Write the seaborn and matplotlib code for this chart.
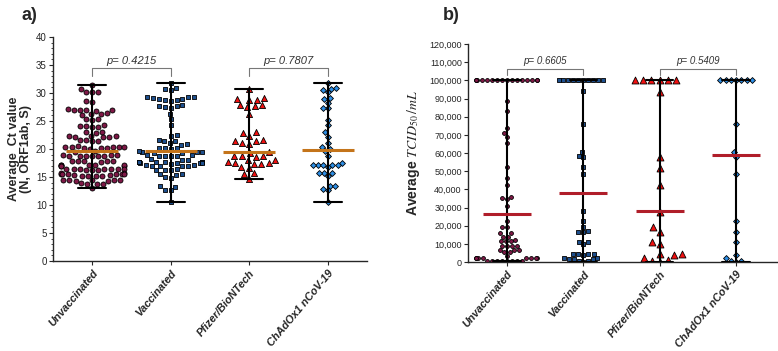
import numpy as np
import pandas as pd
import matplotlib
matplotlib.use("Agg")
import matplotlib.pyplot as plt
from matplotlib.ticker import MultipleLocator, StrMethodFormatter
import seaborn as sns

categories = ["Unvaccinated", "Vaccinated", "Pfizer/BioNTech", "ChAdOx1 nCoV-19"]

# ---- panel a: average Ct values ----
ct_unvaccinated = [31.5,
    30.7, 30.2, 30.1, 30.2, 28.6, 28.4,
    27.0, 27.0, 26.9, 27.1, 26.8, 27.0, 26.3, 26.2, 26.0, 26.4,
    25.3, 25.4, 25.2, 24.1, 24.0, 24.2, 23.9, 24.1, 23.0, 22.9, 23.1,
    22.3, 22.2, 22.4, 22.3, 22.1, 22.2, 21.6, 21.5, 21.4, 21.6,
    20.4, 20.3, 20.2, 20.5, 20.3, 20.1, 20.4, 20.2, 20.0, 20.3, 19.6, 19.5,
    18.9, 18.8, 18.7, 18.9, 18.8, 18.7, 18.8, 18.9, 18.8,
    17.9, 17.8, 17.7, 17.8, 17.9, 17.8,
    17.1, 17.0, 17.2, 17.1, 17.0, 17.1, 17.2, 17.0,
    16.5, 16.4, 16.3, 16.4, 16.5, 16.3, 16.4, 16.5, 16.3, 16.4,
    15.7, 15.6, 15.5, 15.6, 15.7, 15.6, 15.5, 15.6,
    15.3, 15.2, 15.1, 15.2, 15.3, 15.2,
    14.5, 14.4, 14.3, 14.4, 14.5, 14.3, 14.4,
    13.8, 13.7, 13.9, 13.8, 13.1]
ct_vaccinated = [31.7, 30.9, 30.6, 30.8,
    29.2, 29.1, 29.3, 29.0, 29.2, 28.8, 28.7, 28.9, 28.6,
    27.8, 27.5, 27.7, 27.4, 27.6, 26.3, 25.3, 24.2, 22.5, 22.3,
    21.6, 21.5, 21.4, 20.9, 20.8, 21.0, 20.1, 20.2, 20.0, 20.1,
    19.5, 19.4, 19.3, 19.6, 19.5, 19.3, 18.8, 18.9, 18.7, 18.8, 18.9, 18.8,
    18.1, 18.2, 18.0,
    17.6, 17.5, 17.7, 17.6, 17.5, 17.6, 17.7, 17.5, 17.6, 17.4, 17.6, 17.5,
    17.0, 16.9, 17.1, 16.9, 17.0, 17.1, 16.3, 16.2, 16.4, 16.3,
    15.5, 15.6, 15.4, 15.0, 14.9, 13.3, 13.4, 12.7, 12.6, 10.6]
ct_pfizer = [30.8, 29.1, 28.8, 28.7, 28.9, 27.8, 27.6, 27.9, 27.5, 26.3,
    23.0, 22.9, 22.4, 21.5, 21.4, 21.6, 21.0, 20.9, 19.5, 19.2,
    18.7, 18.8, 18.6, 18.7, 18.0, 18.1, 17.5, 17.4, 17.6, 17.5, 17.4,
    16.7, 16.6, 15.7, 15.6, 14.7]
ct_chadox = [31.7, 30.8, 30.9, 30.5, 30.1, 29.1, 28.9, 28.2, 27.3, 27.3,
    25.1, 24.2, 23.0, 22.2, 21.0, 20.3, 20.0, 19.6, 18.8, 17.5,
    17.1, 17.1, 17.1, 17.1, 17.1, 16.7, 15.7, 15.7, 15.7, 15.1,
    13.4, 13.4, 12.9, 12.6, 10.6]
ct_center = [19.7, 19.6, 19.4, 19.9]
ct_pvalues = ["p= 0.4215", "p= 0.7807"]

# ---- panel b: average TCID50/mL ----
tc_unvaccinated = [100000, 100000, 100000, 100000, 100000, 100000,
    100000, 100000, 100000, 100000, 100000, 100000,
    100000, 100000, 100000, 100000,
    88500, 83000, 73500, 71000, 69000, 65500, 52300, 46000, 42500,
    36000, 35000, 34500, 31000, 22500, 19500, 19500, 16000, 16000,
    13800, 13800, 12300, 11500, 11500, 11500, 9000, 9000, 9000, 9000,
    6600, 6600, 6600, 5500, 5500, 3300,
    2200, 2200, 2200, 2200, 2200, 2200, 2200, 2200,
    600, 600, 600, 600, 600, 600, 600, 600]
tc_vaccinated = [100000, 100000, 100000, 100000, 100000,
    100000, 100000, 100000, 100000, 100000,
    94000, 76000, 60300, 58500, 57800, 52300, 48500, 28000, 22500,
    19300, 17200, 16700, 16700, 11200, 11200, 9900,
    4300, 4300, 4300, 4300, 3900, 2300, 2300,
    1800, 1800, 1800, 800, 800, 0]
tc_pfizer = [100000, 100000, 100000, 100000, 100000, 100000,
    93500, 58000, 51500, 42500, 27500, 19000, 16500, 11000, 10000,
    4600, 4600, 3900, 2300, 1000, 800, 0]
tc_chadox = [100000, 100000, 100000, 100000, 100000, 100000, 100000,
    76000, 60300, 57800, 48500, 22800, 16500, 11000, 4000, 2000, 700, 700, 0]
tc_center = [26500, 38000, 28000, 59000]
tc_pvalues = ["p= 0.6605", "p= 0.5409"]

# ---- styling ----
colors = ["#7E1846", "#1D4F8E", "#F01010", "#2E8FE6"]
markers = ["o", "s", "^", "D"]
sizes_a = [3.6, 3.5, 4.4, 3.0]
sizes_b = [2.8, 2.8, 5.0, 3.0]

sns.set_style("ticks")
plt.rcParams["font.family"] = ["Liberation Sans", "DejaVu Sans"]
plt.rcParams["mathtext.fontset"] = "stix"

fig = plt.figure(figsize=(7.78, 3.51), dpi=100)
axA = fig.add_axes([53/778, 1-261/351, 314/778, 224/351])
axB = fig.add_axes([468/778, 1-262/351, 310/778, 218/351])


def long_df(series):
    rows = []
    for cat, vals in zip(categories, series):
        for v in vals:
            rows.append((cat, v))
    return pd.DataFrame(rows, columns=["group", "value"])


def draw_panel(ax, series, centers, sizes, center_color, center_len):
    df = long_df(series)
    for cat, col, mk, sz in zip(categories, colors, markers, sizes):
        sub = df[df["group"] == cat]
        sns.swarmplot(data=sub, x="group", y="value", order=categories,
                      color=col, marker=mk, size=sz, edgecolor="black",
                      linewidth=0.6, warn_thresh=1.0, ax=ax, zorder=2)
    sns.pointplot(data=df, x="group", y="value", order=categories,
                  estimator="median", errorbar=("pi", 100), capsize=0.36,
                  color="black", linestyle="none", marker="",
                  err_kws={"linewidth": 1.5, "zorder": 3}, ax=ax)
    cdf = pd.DataFrame({"group": categories, "value": centers})
    sns.pointplot(data=cdf, x="group", y="value", order=categories,
                  errorbar=None, color=center_color, linestyle="none",
                  marker="_", markersize=center_len, markeredgewidth=2.2,
                  ax=ax, zorder=4)
    sns.despine(ax=ax)
    ax.set_xlabel("")
    ax.tick_params(axis="x", length=3, width=0.8, pad=2)
    ax.tick_params(axis="y", length=3, width=0.8, pad=1.5)
    for lab in ax.get_xticklabels():
        lab.set_rotation(50)
        lab.set_ha("right")
        lab.set_rotation_mode("anchor")
        lab.set_fontstyle("italic")
        lab.set_fontweight("bold")
        lab.set_fontsize(7.8)
    for sp in ["left", "bottom"]:
        ax.spines[sp].set_linewidth(1.0)


def bracket(ax, i, j, y, h, text, fs):
    ax.plot([i, i, j, j], [y - h, y, y, y - h], color="#777777", lw=0.8,
            clip_on=False)
    ax.text((i + j) / 2, y + h * 0.35, text, ha="center", va="bottom",
            fontsize=fs, fontstyle="italic", color="#333333")


# panel a
draw_panel(axA, [ct_unvaccinated, ct_vaccinated, ct_pfizer, ct_chadox],
           ct_center, sizes_a, "#C4741A", 37)
axA.set_xlim(-0.5, 3.5)
axA.set_ylim(0, 40)
axA.yaxis.set_major_locator(MultipleLocator(5))
axA.yaxis.set_minor_locator(MultipleLocator(1))
axA.tick_params(axis="y", which="minor", length=1.8, width=0.6)
axA.tick_params(axis="y", labelsize=7)
axA.set_ylabel("Average  Ct value\n(N, ORF1ab, S)", fontsize=9,
               fontweight="bold", labelpad=3, linespacing=1.0)
bracket(axA, 0, 1, 34.4, 1.3, ct_pvalues[0], 8)
bracket(axA, 2, 3, 34.4, 1.3, ct_pvalues[1], 8)

# panel b
draw_panel(axB, [tc_unvaccinated, tc_vaccinated, tc_pfizer, tc_chadox],
           tc_center, sizes_b, "#B01E2A", 34)
axB.set_xlim(-0.51, 3.55)
axB.set_ylim(0, 120000)
axB.yaxis.set_major_locator(MultipleLocator(10000))
axB.yaxis.set_major_formatter(StrMethodFormatter("{x:,.0f}"))
axB.tick_params(axis="y", labelsize=6.5)
axB.set_ylabel(r"Average $\mathit{TCID}_{50}\,/\mathit{mL}$", fontsize=10,
               fontweight="bold", labelpad=5)
bracket(axB, 0, 1, 106500, 3500, tc_pvalues[0], 7)
bracket(axB, 2, 3, 106500, 3500, tc_pvalues[1], 7)

fig.text(22/778, 1-15/351, "a)", fontsize=13, fontweight="bold", va="center")
fig.text(443/778, 1-16/351, "b)", fontsize=13, fontweight="bold", va="center")

fig.savefig("out.png", dpi=100)
